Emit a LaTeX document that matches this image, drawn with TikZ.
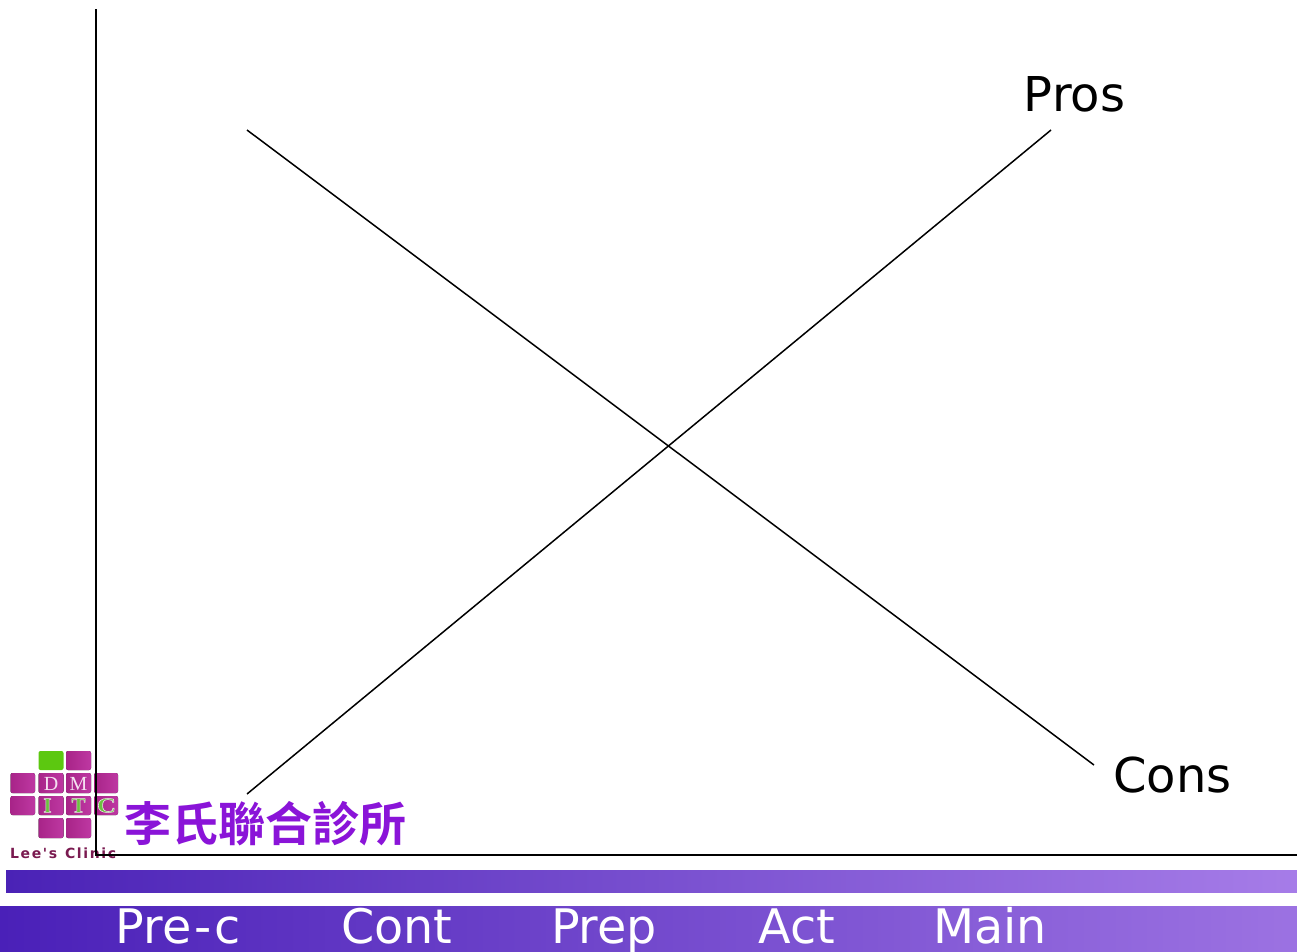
\documentclass[tikz,border=0pt]{standalone}
\usepackage{fontspec}
\setmainfont{DejaVu Sans}
\newfontfamily\cjkfont{Noto Sans CJK TC Bold}
\newfontfamily\clinicfont{DejaVu Sans Bold}
\newfontfamily\logoserif{Liberation Serif}[BoldFont={Liberation Serif Bold}]
\definecolor{barL}{HTML}{4A22B6}
\definecolor{barM}{HTML}{6F44CC}
\definecolor{barR}{HTML}{A67CE8}
\definecolor{bandL}{HTML}{4A20B8}
\definecolor{bandM}{HTML}{6C42CC}
\definecolor{bandR}{HTML}{9C72E2}
\definecolor{tileA}{HTML}{A82488}
\definecolor{tileB}{HTML}{BE38A2}
\definecolor{tileG}{HTML}{5CC810}
\definecolor{lgreen}{HTML}{6CC040}
\definecolor{maroon}{HTML}{7A1A50}
\newcommand{\outlined}[1]{\special{pdf:code 2 Tr 0.5 w 0.92 0.92 0.92 RG}#1\special{pdf:code 0 Tr}}
\tikzset{
  x=1pt,y=-1pt,
  axis/.style={draw=black,line width=1.5pt},
  curve/.style={draw=black,line width=1.5pt},
  lab/.style={font=\fontsize{48}{50}\selectfont,text=black,inner sep=0pt,anchor=base},
  stage/.style={font=\fontsize{47.6}{50}\selectfont,text=white,inner sep=0pt,anchor=base},
  tile/.style={rounded corners=2pt,left color=tileA,right color=tileB,draw=none},
  tileg/.style={rounded corners=2pt,fill=tileG,draw=none},
  lw/.style={font=\logoserif\fontsize{20}{20}\selectfont,text=white!85!tileB,inner sep=0pt},
  lg/.style={font=\logoserif\bfseries\fontsize{21}{21}\selectfont,text=lgreen,inner sep=0pt},
}
\begin{document}
\begin{tikzpicture}
\useasboundingbox (0,0) rectangle (1297,951);
\fill[white] (0,0) rectangle (1297,951);
% bars
\shade[left color=barL,middle color=barM,right color=barR] (6,870) rectangle (1297,892);
\shade[left color=bandL,middle color=bandM,right color=bandR] (0,906) rectangle (1297,951);
% logo tiles
\fill[tileg] (38.5,751) rectangle (63.5,770);
\fill[tile] (66,751) rectangle (91,770);
\foreach \xa/\xb in {10.5/35,38.5/63.5,66/91,94/118}{
  \fill[tile] (\xa,773) rectangle (\xb,793);
  \fill[tile] (\xa,796) rectangle (\xb,815);
}
\foreach \xa/\xb in {38.5/63.5,66/91}{
  \fill[tile] (\xa,818) rectangle (\xb,838);
}
\node[lw] (ld) at (51,783.5) {D};
\node[lw] (lm) at (78.5,783.5) {M};
\node[lg] (li) at (47.5,805.5) {\outlined{I}};
\node[lg] (lt) at (78.5,805.5) {\outlined{T}};
\node[lg,xscale=1.25] (lc) at (106.5,805.5) {\outlined{C}};
\node[inner sep=0pt,text=maroon,font=\clinicfont\fontsize{14}{15}\selectfont,anchor=base west] (clinic) at (10,858) {L\kern1.6pt e\kern1.6pt e\kern1.6pt \symbol{39}\kern1.6pt s\kern8pt C\kern1.6pt l\kern1.6pt i\kern1.6pt n\kern1.6pt i\kern1.6pt c};
\node[inner sep=0pt,anchor=center,text={rgb,255:red,138;green,20;blue,216},font=\cjkfont\fontsize{47}{48}\selectfont] (clinicname) at (265.5,824) {李氏聯合診所};
% axes
\coordinate (origin) at (96,855);
\coordinate (ytop) at (96,9);
\coordinate (xend) at (1297,855);
\draw[axis] (ytop) -- (origin) -- (xend);
% crossing lines
\coordinate (prosA) at (247,794);
\coordinate (prosB) at (1051,130);
\coordinate (consA) at (247,130);
\coordinate (consB) at (1094,765);
\draw[curve] (prosA) -- (prosB);
\draw[curve] (consA) -- (consB);
% labels
\node[lab] (pros) at (1074.5,111) {Pros};
\node[lab] (cons) at (1172.5,792) {Cons};
\node[stage] (s1) at (178,943) {Pre\kern3pt-\kern2.5pt c};
\node[stage] (s2) at (397,943) {Cont};
\node[stage] (s3) at (604,943) {Prep};
\node[stage] (s4) at (797,943) {Act};
\node[stage] (s5) at (990,943) {Main};
\end{tikzpicture}
\end{document}
